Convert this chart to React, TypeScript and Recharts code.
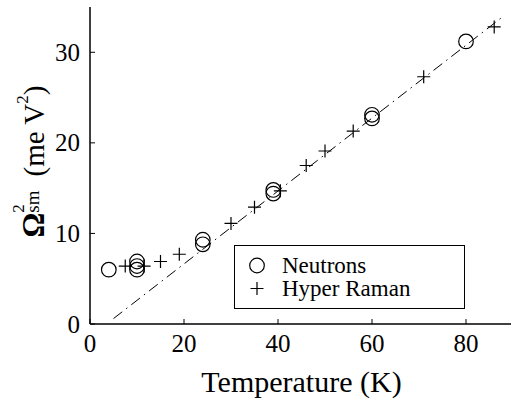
import React from 'react'
import { ComposedChart, Scatter, XAxis, YAxis, Legend } from 'recharts'

// temperatures (K) and Omega_sm^2 (meV^2)
const neutronT = [4, 10, 10, 10, 24, 24, 39, 39, 60, 60, 80]
const neutronW = [6.0, 6.9, 6.4, 6.0, 9.3, 8.8, 14.8, 14.4, 23.1, 22.7, 31.2]
const ramanT = [7.5, 11.5, 15, 19, 30, 35, 40.5, 46, 50, 56, 71, 86]
const ramanW = [6.4, 6.4, 6.9, 7.7, 11.1, 12.9, 14.7, 17.5, 19.1, 21.3, 27.3, 32.8]
const fitT = [5, 88]
const fitW = [0.6, 34]

const xTicks = [0, 20, 40, 60, 80]
const yTicks = [0, 10, 20, 30]
const legendOrder = ['Neutrons', 'Hyper Raman']

const FONT = 'Liberation Serif, Times New Roman, Tinos, DejaVu Serif, serif'

const neutrons = neutronT.map((t, i) => ({ t, w: neutronW[i] }))
const raman = ramanT.map((t, i) => ({ t, w: ramanW[i] }))
const fit = fitT.map((t, i) => ({ t, w: fitW[i] }))

const Circle = ({ cx, cy }: any) => (
  <circle cx={cx} cy={cy} r={7.3} fill="none" stroke="#000" strokeWidth={1.2} />
)

const Plus = ({ cx, cy }: any) => (
  <path d={`M${cx - 6.5},${cy}H${cx + 6.5}M${cx},${cy - 6.5}V${cy + 6.5}`} stroke="#000" strokeWidth={1.2} />
)

const bottomTick = ({ x, y, payload }: any) => (
  <g>
    <line x1={x} y1={y} x2={x} y2={y - 5} stroke="#000" />
    <text x={x} y={y + 28} textAnchor="middle" fontSize={25} fontFamily={FONT} fill="#000">
      {payload.value}
    </text>
  </g>
)

const leftTick = ({ x, y, payload }: any) => (
  <g>
    <line x1={x} y1={y} x2={x + 5} y2={y} stroke="#000" />
    <text x={x - 10} y={y + 8.5} textAnchor="end" fontSize={25} fontFamily={FONT} fill="#000">
      {payload.value}
    </text>
  </g>
)

const topTick = ({ x, y }: any) => <line x1={x} y1={y} x2={x} y2={y + 5} stroke="#000" />
const rightTick = ({ x, y }: any) => <line x1={x} y1={y} x2={x - 5} y2={y} stroke="#000" />

const xLabel = ({ viewBox }: any) => (
  <text
    x={viewBox.x + viewBox.width / 2}
    y={392}
    textAnchor="middle"
    fontSize={30}
    fontFamily={FONT}
    fill="#000"
  >
    Temperature (K)
  </text>
)

const yLabel = ({ viewBox }: any) => {
  const cy = viewBox.y + viewBox.height / 2 - 4
  return (
    <text transform={`translate(44,${cy}) rotate(-90)`} textAnchor="middle" fontFamily={FONT} fill="#000" fontSize={29}>
      <tspan fontWeight="bold" fontSize={31}>Ω</tspan>
      <tspan fontSize={17} dy={-20}>2</tspan>
      <tspan fontSize={19} dx={-8.5} dy={15}>sm</tspan>
      <tspan dx={14} dy={5}>(me V</tspan>
      <tspan fontSize={17} dy={-16}>2</tspan>
      <tspan dy={16}>)</tspan>
    </text>
  )
}

const legendContent = ({ payload }: any) => {
  const items = legendOrder.filter((name) => (payload || []).some((p: any) => p.value === name))
  return (
    <div
      style={{
        boxSizing: 'border-box',
        width: 231,
        height: 64,
        border: '1.5px solid #000',
        background: '#fff',
        paddingTop: 8,
        fontFamily: FONT,
        fontSize: 23,
        color: '#000',
      }}
    >
      {items.map((name) => (
        <div key={name} style={{ display: 'flex', alignItems: 'center', height: 23, lineHeight: '23px' }}>
          <svg width={47} height={23} style={{ flex: 'none' }}>
            {name === 'Neutrons' ? <Circle cx={22} cy={11.5} /> : <Plus cx={22} cy={11.5} />}
          </svg>
          <span>{name}</span>
        </div>
      ))}
    </div>
  )
}

export default function App() {
  return (
    <div style={{ position: 'absolute', left: 0, top: 0, width: 511, height: 402, overflow: 'hidden', background: '#fff', fontFamily: FONT }}>
      <ComposedChart width={520} height={402} margin={{ top: 7, right: 7, bottom: 0, left: 0 }}>
        <XAxis
          xAxisId="bottom"
          dataKey="t"
          type="number"
          domain={[0, 90]}
          ticks={xTicks}
          allowDataOverflow
          height={78}
          tickSize={0}
          tickMargin={0}
          tickLine={false}
          tick={bottomTick}
          axisLine={{ stroke: '#000', strokeWidth: 1.5 }}
          label={{ content: xLabel }}
        />
        <XAxis
          xAxisId="top"
          orientation="top"
          dataKey="t"
          type="number"
          domain={[0, 90]}
          ticks={xTicks}
          allowDataOverflow
          height={0}
          tickSize={0}
          tickMargin={0}
          tickLine={false}
          tick={topTick}
          axisLine={{ stroke: '#000', strokeWidth: 1.5 }}
        />
        <YAxis
          yAxisId="left"
          dataKey="w"
          type="number"
          domain={[0, 35]}
          ticks={yTicks}
          allowDataOverflow
          width={90}
          tickSize={0}
          tickMargin={0}
          tickLine={false}
          tick={leftTick}
          axisLine={{ stroke: '#000', strokeWidth: 1.5 }}
          label={{ content: yLabel }}
        />
        <YAxis
          yAxisId="right"
          orientation="right"
          dataKey="w"
          type="number"
          domain={[0, 35]}
          ticks={yTicks}
          allowDataOverflow
          width={0}
          tickSize={0}
          tickMargin={0}
          tickLine={false}
          tick={rightTick}
          axisLine={{ stroke: '#000', strokeWidth: 1.5 }}
        />
        <Scatter
          name="fit"
          data={fit}
          xAxisId="top"
          yAxisId="right"
          legendType="none"
          shape={() => <g />}
          line={{ stroke: '#000', strokeWidth: 1, strokeDasharray: '11 5 1.5 5' }}
          isAnimationActive={false}
        />
        <Scatter
          name="Neutrons"
          data={neutrons}
          xAxisId="bottom"
          yAxisId="left"
          shape={Circle}
          isAnimationActive={false}
        />
        <Scatter
          name="Hyper Raman"
          data={raman}
          xAxisId="bottom"
          yAxisId="left"
          shape={Plus}
          isAnimationActive={false}
        />
        <Legend
          layout="vertical"
          align="center"
          verticalAlign="middle"
          content={legendContent}
          wrapperStyle={{ left: 234, top: 245, width: 231, height: 64 }}
        />
      </ComposedChart>
    </div>
  )
}
